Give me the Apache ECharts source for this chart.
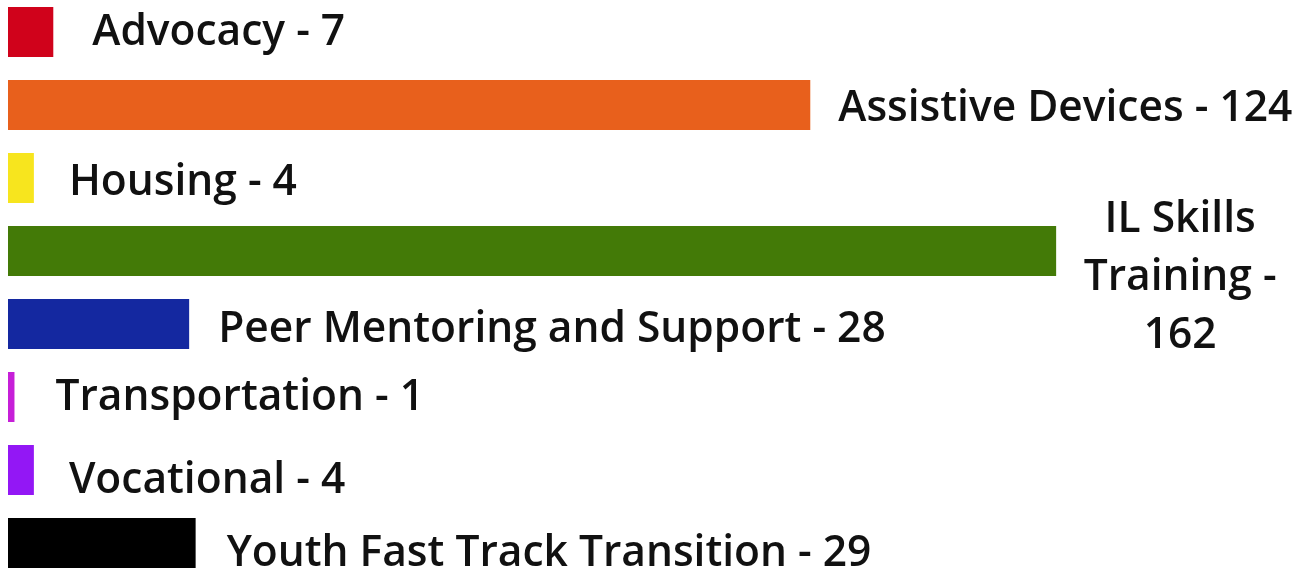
<!DOCTYPE html>
<html>
<head>
    <meta charset="utf-8">
    <title>Services</title>
    <script type="text/javascript" src="https://cdn.jsdelivr.net/npm/echarts@6/dist/echarts.min.js"></script>
    <style>
        html, body { margin: 0; padding: 0; background: #fff; }
    </style>
</head>
<body>
    <div id="main" style="width: 1309px;height:576px;"></div>

    <script type="text/javascript">
        // data
        var categories = ['Advocacy', 'Assistive Devices', 'Housing', 'IL Skills Training',
            'Peer Mentoring and Support', 'Transportation', 'Vocational', 'Youth Fast Track Transition'];
        var counts = [7, 124, 4, 162, 28, 1, 4, 29];

        // styling
        var colors = ['#d0021b', '#e8601c', '#f7e51e', '#437a07', '#1428a0', '#c61fd8', '#9317f5', '#000000'];
        var labelGap = [39, 28, 35, 0, 29, 41, 35, 31];
        var labelDy = [1, 4, 5, 0, 6, 1, 11, 11];

        var myChart = echarts.init(document.getElementById('main'));

        var seriesData = [];
        for (var i = 0; i < categories.length; i++) {
            var item = {
                value: counts[i],
                itemStyle: { color: colors[i] },
                label: { distance: labelGap[i], offset: [0, labelDy[i]] }
            };
            if (categories[i] === 'IL Skills Training') {
                // wrapped label, centred lines
                item.label = {
                    distance: 0,
                    align: 'center',
                    offset: [124, 27],
                    lineHeight: 58,
                    formatter: 'IL Skills\nTraining -\n162'
                };
            }
            seriesData.push(item);
        }

        myChart.setOption({
            animation: false,
            grid: { left: 8, top: 32, height: 511, width: 1294 },
            xAxis: {
                type: 'value', min: 0, max: 200,
                show: false
            },
            yAxis: {
                type: 'category', data: categories, inverse: true,
                boundaryGap: false,
                show: false
            },
            series: [{
                type: 'bar',
                barWidth: 50,
                data: seriesData,
                label: {
                    show: true,
                    position: 'right',
                    fontFamily: 'Open Sans',
                    fontWeight: 600,
                    fontSize: 42.5,
                    color: '#111',
                    formatter: function (p) { return p.name + ' - ' + p.value; }
                }
            }]
        });
    </script>
</body>
</html>
